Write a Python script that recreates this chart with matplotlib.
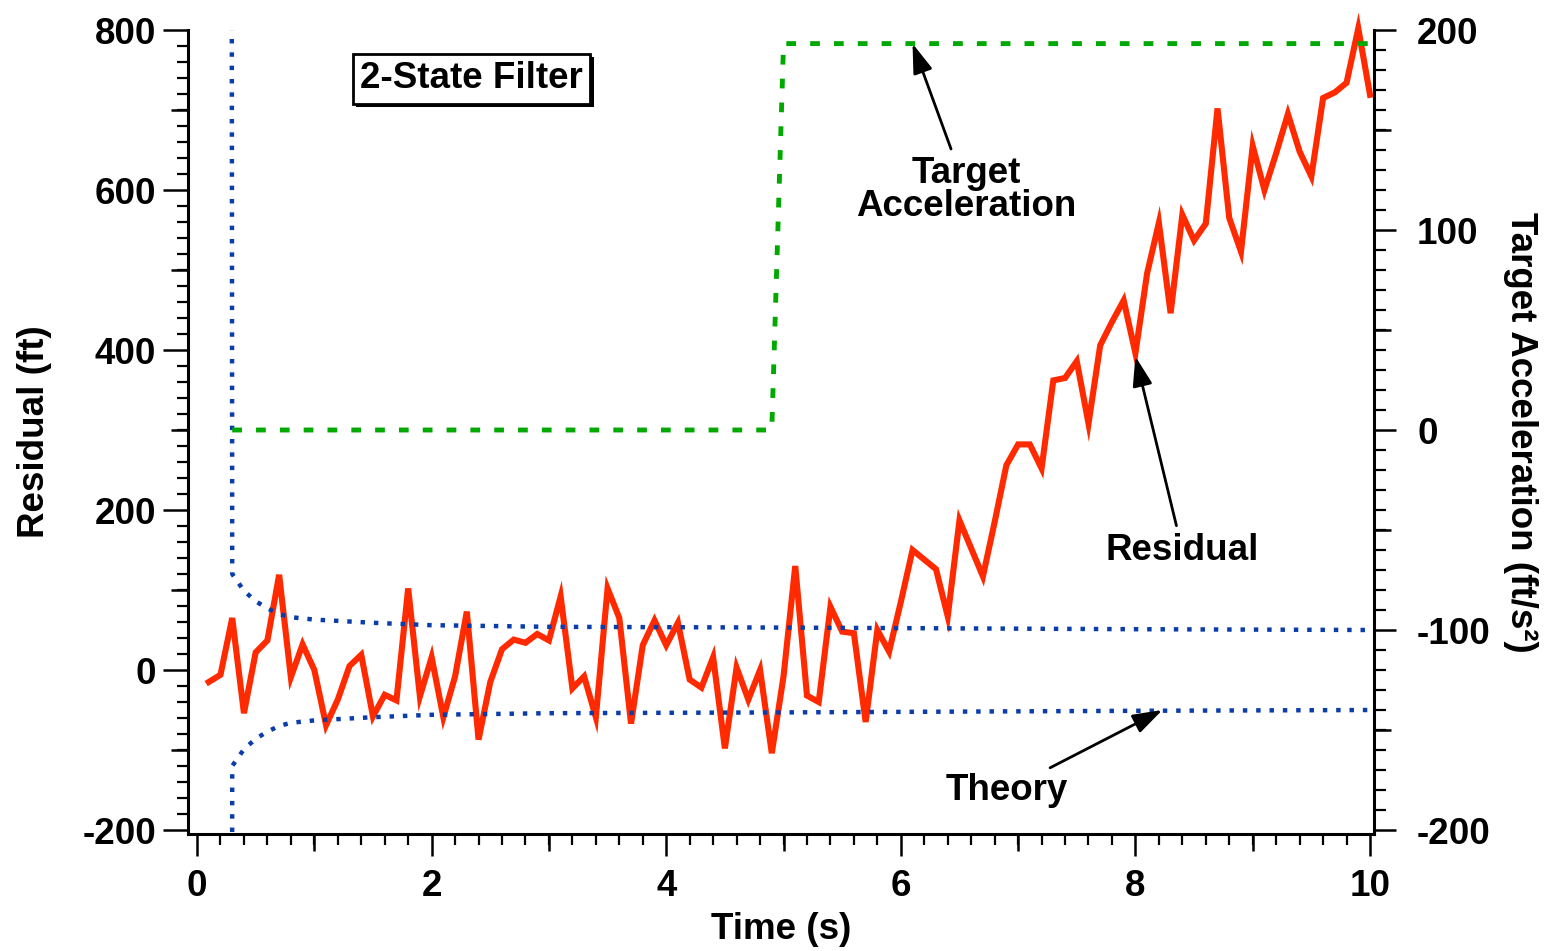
import numpy as np
import matplotlib
matplotlib.use("Agg")
import matplotlib.pyplot as plt
import matplotlib.patheffects as pe
from matplotlib.patches import ArrowStyle

# residual (ft), one sample every dt seconds starting at t = dt
dt = 0.1
residual = [
    -15, -6, 65, -54, 22, 37, 119, -9, 32, 0,
    -69, -37, 5, 19, -58, -31, -38, 102, -33, 16,
    -59, -8, 73, -87, -15, 26, 38, 34, 45, 37,
    92, -23, -8, -59, 102, 65, -67, 31, 62, 31,
    59, -12, -22, 16, -98, 3, -37, 0, -104, -8,
    130, -32, -40, 79, 48, 46, -65, 50, 23, 85,
    150, 138, 126, 67, 187, 152, 117, 185, 256, 282,
    282, 252, 362, 365, 386, 308, 406, 435, 462, 396,
    496, 559, 446, 569, 537, 558, 702, 565, 523, 655,
    600, 646, 695, 648, 617, 715, 722, 734, 802, 719,
]
time = dt * np.arange(1, len(residual) + 1)

# theory (1 sigma of residual, ft)
theory_t = [0.2, 0.3, 0.4, 0.5, 0.6, 0.7, 0.8, 1.0, 1.5, 2.0, 3.0, 5.0, 8.0, 10.0]
theory = [20000, 120, 99, 86, 77, 70, 66, 63, 59, 56, 54, 53, 51, 50]

# target acceleration (ft/s^2)
accel_t = [0.3, 4.9, 5.0, 10.0]
accel = [0, 0, 193.2, 193.2]

plt.rcParams["font.family"] = ["Liberation Sans", "DejaVu Sans"]
plt.rcParams["font.weight"] = "bold"
plt.rcParams["axes.labelweight"] = "bold"
plt.rcParams["font.size"] = 26.5
plt.rcParams["axes.unicode_minus"] = False

fig = plt.figure(figsize=(15.51, 9.51), dpi=100)
ax = fig.add_axes([188 / 1551, 117 / 951, 1186 / 1551, 804 / 951])
ax2 = ax.twinx()

red = "#ff2a00"
blue = "#0a3caa"
green = "#00a800"

ax.plot(time, residual, color=red, lw=4.4, solid_joinstyle="miter", clip_on=False, zorder=2)
ax.plot(theory_t, theory, color=blue, lw=3.2, ls=(0, (1, 2.0)), dash_capstyle="butt", zorder=3)
ax.plot(theory_t, [-v for v in theory], color=blue, lw=3.2, ls=(0, (1, 2.0)), dash_capstyle="butt", zorder=3)
ax2.plot(accel_t, accel, color=green, lw=3.5, ls=(0, (2.0, 2.9)), dash_capstyle="butt")

ax.set_xlim(-0.077, 10.034)
ax.set_ylim(-205, 800)
ax2.set_ylim(-202, 200)

for a in (ax, ax2):
    a.spines["top"].set_visible(False)
    for s in a.spines.values():
        s.set_linewidth(2.2)
ax.spines["right"].set_visible(False)
ax2.spines["left"].set_visible(False)
ax2.spines["bottom"].set_visible(False)

ax.set_xticks(range(0, 11, 2))
ax.set_xticks(np.arange(0, 10.01, 0.2), minor=True)
ax.set_yticks(range(-200, 801, 200))
ax.set_yticks(range(-200, 801, 20), minor=True)
ax2.set_yticks(range(-200, 201, 100))
ax2.set_yticks(range(-200, 201, 10), minor=True)

ax.tick_params(axis="x", which="major", length=16, width=1.8, pad=9)
ax.tick_params(axis="x", which="minor", length=8, width=1.6)
ax.tick_params(axis="y", which="major", length=18, width=1.8, pad=5)
ax.tick_params(axis="y", which="minor", length=8, width=1.6)
ax2.tick_params(axis="y", which="major", length=16, width=1.8, pad=15)
ax2.tick_params(axis="y", which="minor", length=8.5, width=1.6)

# medium ticks
secx = ax.secondary_xaxis("bottom")
secx.set_xticks([1, 3, 5, 7, 9])
secx.tick_params(length=12, width=1.8, labelbottom=False)
secx.spines["bottom"].set_visible(False)
secy = ax.secondary_yaxis("left")
secy.set_yticks([-100, 100, 300, 500, 700])
secy.tick_params(length=12, width=1.8, labelleft=False)
secy.spines["left"].set_visible(False)
secy2 = ax2.secondary_yaxis("right")
secy2.set_yticks([-150, -50, 50, 150])
secy2.tick_params(length=12, width=1.8, labelright=False)
secy2.spines["right"].set_visible(False)

ax.set_xlabel("Time (s)", labelpad=6)
ax.set_ylabel("Residual (ft)", labelpad=22)
ax2.set_ylabel("Target Acceleration (ft/s²)", rotation=-90, va="bottom", labelpad=9)

box = ax.text(2.34, 739, "2-State Filter", ha="center", va="center",
              bbox=dict(boxstyle="square,pad=0.2", fc="white", ec="black", lw=2))
box.get_bbox_patch().set_path_effects(
    [pe.withSimplePatchShadow(offset=(2.5, -2.5), shadow_rgbFace="black", alpha=1.0)])

head = ArrowStyle("-|>", head_length=0.9, head_width=0.3)
arrow = dict(arrowstyle=head, mutation_scale=20, lw=2, color="black", shrinkA=3, shrinkB=0)

ax2.annotate("Target\nAcceleration", xy=(6.1, 193.2), xytext=(6.556, 600),
             textcoords=ax.transData, ha="center", va="center", linespacing=0.95,
             arrowprops=arrow)
ax2.annotate("Residual", xy=(8.0, 392), xycoords=ax.transData, xytext=(8.4, 150),
             textcoords=ax.transData, ha="center", va="center", arrowprops=arrow)
ax2.annotate("Theory", xy=(8.23, -50), xycoords=ax.transData, xytext=(6.905, -150),
             textcoords=ax.transData, ha="center", va="center", arrowprops=arrow)

fig.savefig("out.png", dpi=100)
